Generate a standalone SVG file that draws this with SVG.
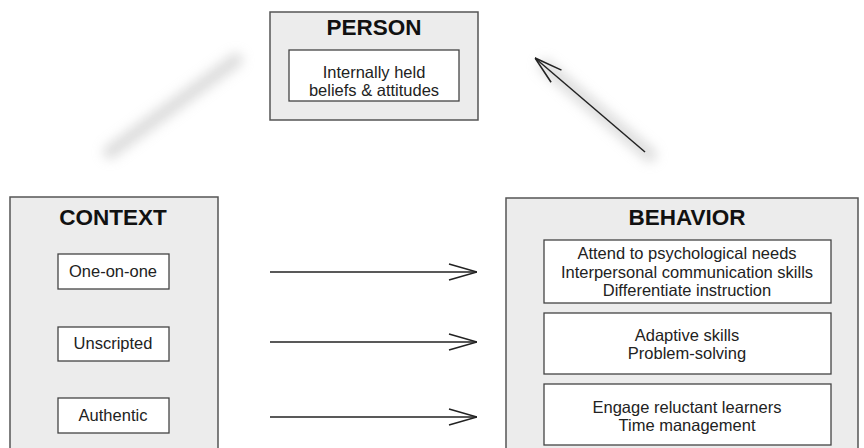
<svg xmlns="http://www.w3.org/2000/svg" width="864" height="448" viewBox="0 0 864 448">
<style>
.outer{fill:#ececec;stroke:#555;stroke-width:1.5}
.inner{fill:#fff;stroke:#444;stroke-width:1.3}
.title{font-family:"Liberation Sans",Arial,sans-serif;font-weight:bold;font-size:22.5px;fill:#111;text-anchor:middle}
.lbl{font-family:"Liberation Sans",Arial,sans-serif;font-size:16.5px;fill:#222;text-anchor:middle}
.arr{stroke:#222;stroke-width:1.5;fill:none}
.ghost{stroke:#bbb;stroke-width:14;fill:none;stroke-linecap:round}
</style>
<defs>
<marker id="head" viewBox="0 0 30 20" refX="30" refY="10" markerWidth="30" markerHeight="20" markerUnits="userSpaceOnUse" orient="auto">
<path d="M2,2 L30,10 L2,18" fill="none" stroke="#222" stroke-width="1.6"/>
</marker>
<filter id="blur" x="-50%" y="-50%" width="200%" height="200%"><feGaussianBlur stdDeviation="6"/></filter>
</defs>
<rect width="864" height="448" fill="#fff"/>
<g id="connectors">
<line class="ghost" x1="110" y1="152" x2="236" y2="60" filter="url(#blur)" opacity="0.5"/>
<line class="ghost" x1="545" y1="66" x2="650" y2="155" filter="url(#blur)" opacity="0.5"/>
<line class="ghost" x1="265" y1="342" x2="485" y2="342" filter="url(#blur)" opacity="0.5"/>
<line class="arr" x1="645" y1="152" x2="535" y2="58" marker-end="url(#head)"/>
<line class="arr" x1="270" y1="272" x2="477" y2="272" marker-end="url(#head)"/>
<line class="arr" x1="270" y1="342" x2="477" y2="342" marker-end="url(#head)"/>
<line class="arr" x1="270" y1="417" x2="477" y2="417" marker-end="url(#head)"/>
</g>
<g id="person">
<rect class="outer" x="270" y="12" width="208" height="108"/>
<text class="title" x="374" y="35">PERSON</text>
<rect class="inner" x="289" y="50" width="170" height="51"/>
<text class="lbl" x="374" y="78">Internally held</text>
<text class="lbl" x="374" y="96">beliefs &amp; attitudes</text>
</g>
<g id="context">
<rect class="outer" x="10" y="197" width="208" height="260"/>
<text class="title" x="113" y="225">CONTEXT</text>
</g>
<g id="one-on-one">
<rect class="inner" x="58" y="254" width="111" height="35"/>
<text class="lbl" x="113" y="277">One-on-one</text>
</g>
<g id="unscripted">
<rect class="inner" x="58" y="327" width="111" height="34"/>
<text class="lbl" x="113" y="349">Unscripted</text>
</g>
<g id="authentic">
<rect class="inner" x="58" y="398" width="111" height="35"/>
<text class="lbl" x="113" y="421">Authentic</text>
</g>
<g id="behavior">
<rect class="outer" x="506" y="198" width="352" height="260"/>
<text class="title" x="687" y="225">BEHAVIOR</text>
</g>
<g id="behavior1">
<rect class="inner" x="544" y="240" width="287" height="63"/>
<text class="lbl" x="687" y="259">Attend to psychological needs</text>
<text class="lbl" x="687" y="278">Interpersonal communication skills</text>
<text class="lbl" x="687" y="296">Differentiate instruction</text>
</g>
<g id="behavior2">
<rect class="inner" x="544" y="313" width="287" height="61"/>
<text class="lbl" x="687" y="341">Adaptive skills</text>
<text class="lbl" x="687" y="359">Problem-solving</text>
</g>
<g id="behavior3">
<rect class="inner" x="544" y="384" width="287" height="61"/>
<text class="lbl" x="687" y="413">Engage reluctant learners</text>
<text class="lbl" x="687" y="431">Time management</text>
</g>
</svg>
